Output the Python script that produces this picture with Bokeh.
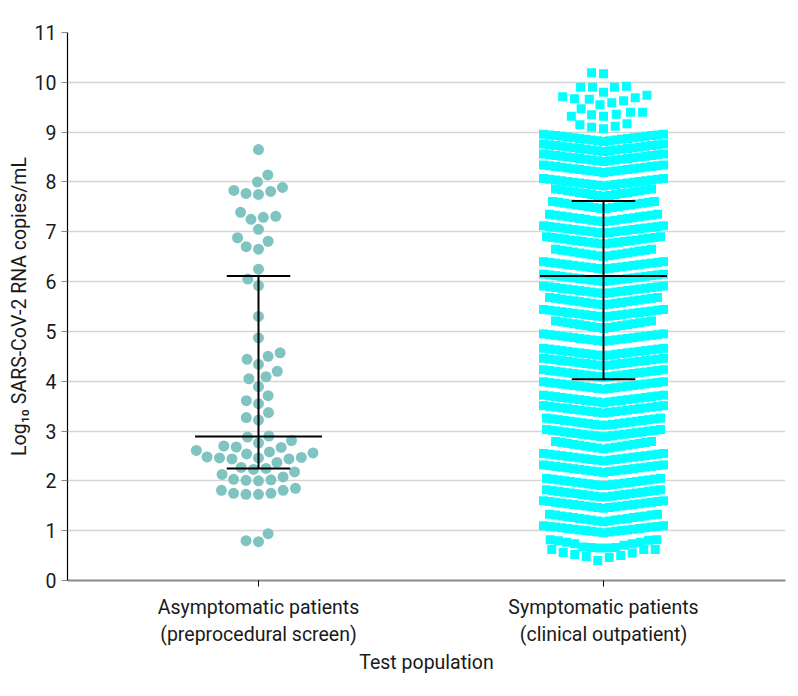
import math
from bokeh.plotting import figure
from bokeh.models import Range1d, FixedTicker
from bokeh.embed import file_html
from bokeh.resources import INLINE

# ---------------- data ----------------
categories = ["Asymptomatic patients\n(preprocedural screen)",
              "Symptomatic patients\n(clinical outpatient)"]

# Asymptomatic group: individual log10 viral loads
asym_values = [8.65, 8.14, 8.00, 7.89, 7.83, 7.81, 7.77, 7.75,
               7.39, 7.31, 7.29, 7.25, 7.05, 6.88, 6.81, 6.70, 6.65,
               6.25, 6.05, 5.92, 5.30, 4.87, 4.57, 4.50, 4.44, 4.34,
               4.20, 4.09, 4.05, 3.89, 3.71, 3.61, 3.55, 3.37, 3.27,
               3.22, 2.90, 2.88, 2.81, 2.76, 2.70, 2.68, 2.67, 2.61,
               2.58, 2.56, 2.54, 2.48, 2.47, 2.46, 2.46, 2.44, 2.44,
               2.37, 2.27, 2.25, 2.23, 2.18, 2.13, 2.08, 2.03, 2.02,
               2.01, 2.00, 1.85, 1.81, 1.81, 1.75, 1.75, 1.73, 1.73,
               0.94, 0.80, 0.78]

# Symptomatic group: sparse high values
sym_top_values = [10.19, 10.17, 9.92, 9.90, 9.90, 9.90, 9.80, 9.74, 9.71,
                  9.69, 9.67, 9.66, 9.63, 9.59, 9.55, 9.47, 9.40, 9.40,
                  9.36, 9.35, 9.32, 9.32, 9.17, 9.15, 9.12, 9.10, 9.07]

# Symptomatic group: dense rows (value at row middle, value at row ends, count)
sym_row_mid = [8.81, 8.61, 8.41, 8.19, 7.92, 7.71, 7.46, 7.20, 6.97, 6.75,
               6.50, 6.25, 6.00, 5.76, 5.53, 5.29, 5.06, 4.80, 4.51, 4.31,
               4.08, 3.84, 3.57, 3.36, 3.11, 2.88, 2.64, 2.40, 2.17, 1.90,
               1.67, 1.45, 1.18, 0.96]
sym_row_end = [8.96, 8.76, 8.56, 8.34, 8.07, 7.86, 7.61, 7.35, 7.12, 6.90,
               6.65, 6.40, 6.15, 5.91, 5.68, 5.44, 5.21, 4.95, 4.66, 4.46,
               4.23, 3.99, 3.72, 3.51, 3.26, 3.03, 2.79, 2.55, 2.32, 2.05,
               1.82, 1.60, 1.33, 1.10]
sym_row_n = [21, 21, 21, 21, 21, 17, 18, 19, 21, 20,
             17, 21, 21, 21, 19, 21, 17, 21, 21, 21,
             21, 21, 21, 21, 20, 20, 17, 21, 21, 20,
             20, 21, 19, 21]

# Symptomatic group: sparse low values (two rows)
sym_low_row1 = [0.82, 0.80, 0.77, 0.74, 0.71, 0.66, 0.65, 0.65, 0.66, 0.67,
                0.74, 0.77, 0.81, 0.82]
sym_low_row2 = [0.62, 0.56, 0.52, 0.48, 0.40, 0.46, 0.50, 0.55, 0.62, 0.62]

# Median and interquartile range per group
medians = [2.89, 6.11]
q1 = [2.25, 4.04]
q3 = [6.11, 7.62]

# ---------------- layout helpers ----------------
PX_X = 345.0   # pixels per category unit
PX_Y = 49.82   # pixels per log unit


def swarm(vals, d_px):
    order = sorted(range(len(vals)), key=lambda i: vals[i])
    placed = []
    xs = [0.0] * len(vals)
    for i in order:
        y = vals[i] * PX_Y
        near = [(px, py) for px, py in placed if abs(py - y) < d_px]
        cands = [0.0]
        for px, py in near:
            dx = math.sqrt(max(d_px ** 2 - (py - y) ** 2, 0))
            cands += [px + dx, px - dx]
        cands.sort(key=lambda c: (abs(c), c))
        for c in cands:
            if all((c - px) ** 2 + (y - py) ** 2 >= d_px ** 2 - 1e-6 for px, py in near):
                xs[i] = c
                break
        placed.append((xs[i], y))
    return [x / PX_X for x in xs]


def centre_out_offsets(n):
    offs = [k - (n - 1) / 2.0 for k in range(n)]
    offs.sort(key=lambda o: (abs(o), o))
    return offs


FONT = "Roboto, 'Noto Sans', sans-serif"

p = figure(width=790, height=690, output_backend="svg", toolbar_location=None,
           x_range=Range1d(0.4464, 2.5275), y_range=Range1d(0, 11),
           min_border_left=67, min_border_right=5, min_border_top=32,
           min_border_bottom=110)
p.outline_line_color = None
p.background_fill_color = "white"
p.border_fill_color = "white"
p.xgrid.visible = False
p.ygrid.grid_line_color = "#d6d6d6"
p.ygrid.grid_line_width = 1.6

p.yaxis.ticker = FixedTicker(ticks=list(range(0, 12)))
p.xaxis.ticker = FixedTicker(ticks=[1, 2])
p.xaxis.major_label_overrides = {1: categories[0], 2: categories[1]}
for ax in (p.xaxis, p.yaxis):
    ax.minor_tick_line_color = None
    ax.major_label_text_font = FONT
    ax.major_label_text_font_size = "19.5px"
    ax.major_label_text_color = "#1a1a1a"
    ax.axis_label_text_font = FONT
    ax.axis_label_text_font_size = "19.5px"
    ax.axis_label_text_font_style = "normal"
    ax.axis_label_text_color = "#1a1a1a"
    ax.major_tick_in = 0
    ax.major_tick_out = 6
p.yaxis.axis_line_color = "black"
p.yaxis.axis_line_width = 1.2
p.yaxis.major_tick_line_color = "#888888"
p.yaxis.major_label_standoff = 5
p.yaxis.axis_label_standoff = 1
p.xaxis.axis_line_color = "#8a8a8a"
p.xaxis.axis_line_width = 2
p.xaxis.major_tick_line_color = "black"
p.xaxis.major_label_standoff = 9
p.xaxis.axis_label_standoff = 2
p.yaxis.axis_label = "Log\u2081\u2080 SARS-CoV-2 RNA copies/mL"
p.xaxis.axis_label = "Test population"

# asymptomatic circles
ax_off = swarm(asym_values, 12.5)
p.scatter([1 + o for o in ax_off], asym_values, marker="circle", size=11,
          fill_color="#80c4c1", line_color=None)

# symptomatic squares
sx, sy = [], []
top_off = swarm(sym_top_values, 12.0)
sx += [2 + o for o in top_off]
sy += list(sym_top_values)
for mid, end, n in zip(sym_row_mid, sym_row_end, sym_row_n):
    offs = centre_out_offsets(n)
    m = max(abs(o) for o in offs)
    for o in offs:
        sx.append(2 + o * 6.0 / PX_X)
        sy.append(mid + (end - mid) * abs(o) / m)
for row, spacing in ((sym_low_row1, 8.2), (sym_low_row2, 11.5)):
    offs = centre_out_offsets(len(row))
    for o, v in zip(offs, sorted(row)):
        sx.append(2 + o * spacing / PX_X)
        sy.append(v)
p.scatter(sx, sy, marker="square", size=9, fill_color="#00ffff", line_color=None)

# median and IQR bars
cx = [1, 2]
p.segment(x0=[c - 0.184 for c in cx], y0=medians, x1=[c + 0.184 for c in cx], y1=medians,
          line_color="black", line_width=2)
p.segment(x0=cx, y0=q1, x1=cx, y1=q3, line_color="black", line_width=2)
p.segment(x0=[c - 0.092 for c in cx], y0=q1, x1=[c + 0.092 for c in cx], y1=q1,
          line_color="black", line_width=2)
p.segment(x0=[c - 0.092 for c in cx], y0=q3, x1=[c + 0.092 for c in cx], y1=q3,
          line_color="black", line_width=2)

open("out.html", "w").write(file_html(p, INLINE))
